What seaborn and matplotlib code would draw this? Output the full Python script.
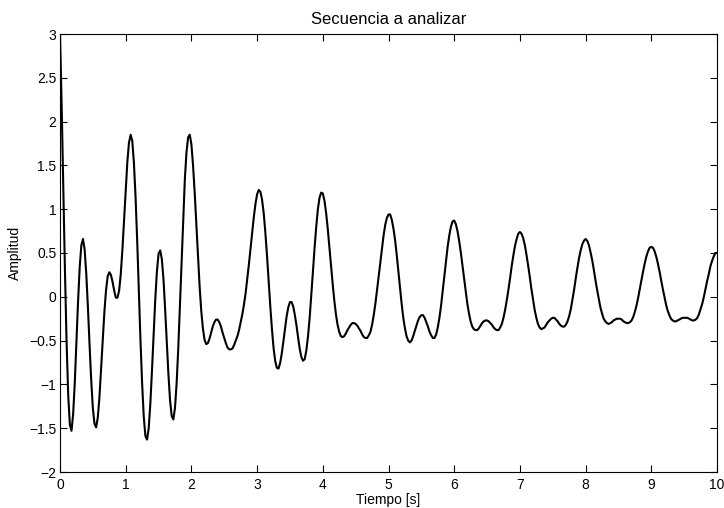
import matplotlib
matplotlib.use("Agg")
import numpy as np
import pandas as pd
import seaborn as sns
import matplotlib.pyplot as plt

# ---------------- data ----------------
# sampling instants: every 0.025 s from 0 to 10 s
t_samples = np.linspace(0.0, 10.0, 401)

amp_0_1 = [3.00, 2.19, 1.25, 0.31, -0.51, -1.12, -1.46, -1.53, -1.34, -0.98,
           -0.52, -0.05, 0.34, 0.59, 0.66, 0.54, 0.26, -0.12, -0.55, -0.95,
           -1.27, -1.45, -1.49, -1.38, -1.15, -0.83, -0.49, -0.18, 0.07, 0.23,
           0.28, 0.25, 0.17, 0.07, -0.01, -0.01, 0.07, 0.26, 0.54, 0.88,
           1.23]
amp_1_2 = [1.54, 1.76, 1.85, 1.78, 1.53, 1.14, 0.64, 0.07, -0.50, -0.99,
           -1.37, -1.59, -1.63, -1.50, -1.22, -0.84, -0.43, -0.03, 0.29, 0.49,
           0.53, 0.43, 0.20, -0.14, -0.52, -0.88, -1.18, -1.36, -1.40, -1.27,
           -0.99, -0.59, -0.10, 0.42, 0.91, 1.34, 1.65, 1.82, 1.85, 1.74]
amp_2_3 = [1.50, 1.19, 0.83, 0.46, 0.12, -0.16, -0.36, -0.49, -0.54, -0.53,
           -0.48, -0.41, -0.34, -0.29, -0.26, -0.26, -0.29, -0.34, -0.41, -0.47,
           -0.53, -0.58, -0.60, -0.60, -0.59, -0.55, -0.50, -0.45, -0.38, -0.29,
           -0.20, -0.09, 0.04, 0.20, 0.37, 0.55, 0.74, 0.91, 1.06, 1.17]
amp_3_4 = [1.22, 1.20, 1.11, 0.96, 0.74, 0.48, 0.19, -0.10, -0.36, -0.58,
           -0.73, -0.81, -0.82, -0.76, -0.65, -0.51, -0.36, -0.22, -0.12, -0.06,
           -0.06, -0.11, -0.21, -0.33, -0.47, -0.60, -0.69, -0.73, -0.71, -0.61,
           -0.45, -0.24, 0.02, 0.29, 0.56, 0.80, 1.00, 1.13, 1.19, 1.18]
amp_4_5 = [1.10, 0.96, 0.78, 0.57, 0.36, 0.15, -0.04, -0.20, -0.32, -0.40,
           -0.45, -0.46, -0.45, -0.42, -0.38, -0.35, -0.32, -0.30, -0.30, -0.31,
           -0.33, -0.36, -0.39, -0.43, -0.46, -0.47, -0.47, -0.44, -0.40, -0.32,
           -0.21, -0.08, 0.07, 0.23, 0.39, 0.56, 0.70, 0.82, 0.90, 0.94]
amp_5_6 = [0.94, 0.88, 0.78, 0.65, 0.48, 0.29, 0.10, -0.08, -0.24, -0.36,
           -0.45, -0.50, -0.52, -0.50, -0.45, -0.39, -0.33, -0.27, -0.23, -0.21,
           -0.21, -0.24, -0.29, -0.34, -0.40, -0.44, -0.47, -0.47, -0.43, -0.35,
           -0.24, -0.10, 0.07, 0.24, 0.41, 0.57, 0.70, 0.80, 0.86, 0.87]
amp_6_7 = [0.83, 0.75, 0.64, 0.51, 0.36, 0.20, 0.05, -0.08, -0.19, -0.28,
           -0.34, -0.37, -0.38, -0.38, -0.36, -0.33, -0.30, -0.28, -0.27, -0.27,
           -0.28, -0.30, -0.32, -0.35, -0.37, -0.38, -0.38, -0.35, -0.31, -0.24,
           -0.15, -0.04, 0.08, 0.21, 0.35, 0.47, 0.58, 0.66, 0.72, 0.74]
amp_7_8 = [0.72, 0.67, 0.59, 0.48, 0.36, 0.23, 0.09, -0.03, -0.15, -0.24,
           -0.31, -0.35, -0.37, -0.36, -0.35, -0.32, -0.29, -0.27, -0.25, -0.24,
           -0.24, -0.26, -0.28, -0.31, -0.33, -0.34, -0.34, -0.32, -0.28, -0.22,
           -0.14, -0.03, 0.08, 0.21, 0.33, 0.44, 0.53, 0.60, 0.64, 0.66]
amp_8_9 = [0.64, 0.59, 0.51, 0.42, 0.31, 0.19, 0.08, -0.02, -0.12, -0.19,
           -0.25, -0.28, -0.30, -0.31, -0.30, -0.29, -0.27, -0.26, -0.25, -0.25,
           -0.25, -0.26, -0.28, -0.29, -0.30, -0.30, -0.29, -0.27, -0.23, -0.17,
           -0.10, -0.01, 0.09, 0.19, 0.29, 0.38, 0.46, 0.52, 0.56, 0.57]
amp_9_10 = [0.56, 0.52, 0.46, 0.38, 0.29, 0.19, 0.09, 0.00, -0.09, -0.16,
            -0.21, -0.25, -0.27, -0.28, -0.28, -0.27, -0.26, -0.25, -0.24, -0.24,
            -0.24, -0.24, -0.25, -0.26, -0.27, -0.27, -0.26, -0.24, -0.20, -0.14,
            -0.08, 0.00, 0.09, 0.18, 0.26, 0.35, 0.41, 0.46, 0.50, 0.50]

xtick_vals = [0, 1, 2, 3, 4, 5, 6, 7, 8, 9, 10]
ytick_vals = [-2, -1.5, -1, -0.5, 0, 0.5, 1, 1.5, 2, 2.5, 3]
ytick_labels = ["\u22122", "\u22121.5", "\u22121", "\u22120.5", "0", "0.5",
                "1", "1.5", "2", "2.5", "3"]

title_text = "Secuencia a analizar"
xlabel_text = "Tiempo [s]"
ylabel_text = "Amplitud"

df = pd.DataFrame({
    "t": t_samples,
    "amp": np.concatenate([amp_0_1, amp_1_2, amp_2_3, amp_3_4, amp_4_5,
                           amp_5_6, amp_6_7, amp_7_8, amp_8_9, amp_9_10]),
})

# ---------------- style ----------------
sns.set_theme(style="ticks")
plt.rcParams["font.family"] = ["Liberation Sans", "DejaVu Sans"]
plt.rcParams.update({
    "axes.edgecolor": "black",
    "axes.labelcolor": "black",
    "text.color": "black",
    "xtick.color": "black",
    "ytick.color": "black",
    "axes.linewidth": 0.8,
    "figure.facecolor": "white",
    "axes.facecolor": "white",
})

fig = plt.figure(figsize=(7.24, 5.08), dpi=100)
ax = fig.add_axes([60 / 724, 1 - 472 / 508, 657 / 724, 438 / 508])

sns.lineplot(data=df, x="t", y="amp", color="black", linewidth=1.5,
             estimator=None, sort=False, ax=ax,
             solid_joinstyle="round", solid_capstyle="round")

ax.set_xlim(0, 10)
ax.set_ylim(-2, 3)
ax.set_xticks(xtick_vals)
ax.set_xticklabels([str(v) for v in xtick_vals])
ax.set_yticks(ytick_vals)
ax.set_yticklabels(ytick_labels)

for side in ["top", "right", "bottom", "left"]:
    ax.spines[side].set_visible(True)
    ax.spines[side].set_color("black")
    ax.spines[side].set_linewidth(0.8)

ax.tick_params(axis="both", which="major", direction="in", length=4.7,
               width=0.8, labelsize=10, top=True, right=True)
ax.tick_params(axis="x", pad=4)
ax.tick_params(axis="y", pad=2.5)

ax.set_title(title_text, fontsize=12, pad=7)
ax.set_xlabel(xlabel_text, fontsize=10, labelpad=1)
ax.set_ylabel(ylabel_text, fontsize=10, labelpad=5)

fig.savefig("out.png", dpi=100, facecolor="white")
